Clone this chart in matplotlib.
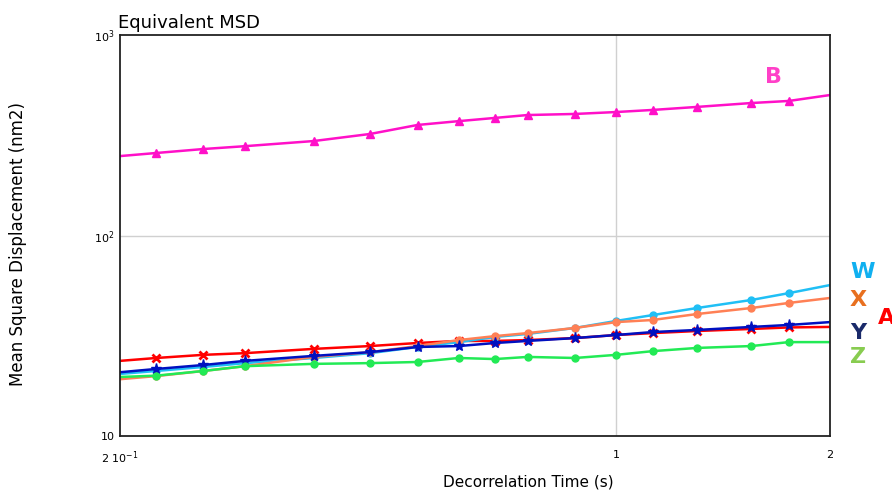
import matplotlib
matplotlib.use('Agg')
import matplotlib.pyplot as plt

# ------------ Data ---------------
t = [0.2, 0.225, 0.262, 0.3, 0.375, 0.45, 0.525, 0.6, 0.675, 0.75, 0.875,
     1.0, 1.125, 1.3, 1.55, 1.75, 2.0]

msd_A = [23.7, 24.5, 25.4, 25.9, 27.2, 28.1, 29.1, 29.8, 29.8, 30.1, 30.8,
         31.9, 32.6, 33.4, 34.2, 34.8, 35.0]
msd_W = [20.4, 21.1, 22.1, 23.1, 24.5, 25.9, 27.8, 29.4, 31.2, 32.3, 34.6,
         37.5, 40.1, 43.5, 47.7, 51.6, 56.6]
msd_X = [19.2, 19.9, 21.1, 22.3, 24.8, 26.2, 28.1, 30.1, 31.5, 32.6, 34.6,
         37.0, 37.9, 40.6, 43.5, 46.1, 48.8]
msd_Y = [20.8, 21.6, 22.6, 23.7, 25.1, 26.2, 27.8, 28.1, 29.1, 29.8, 30.8,
         31.9, 33.0, 33.8, 35.0, 35.8, 37.0]
msd_Z = [19.7, 20.0, 21.1, 22.3, 22.9, 23.1, 23.4, 24.5, 24.2, 24.8, 24.5,
         25.4, 26.5, 27.5, 28.1, 29.4, 29.4]
msd_B = [249, 258, 270, 279, 296, 321, 356, 372, 386, 399, 404,
         413, 423, 438, 458, 469, 502]

x_ticks = [0.2, 1, 2]
x_ticklabels = ['2 10$^{-1}$', '1', '2']
y_ticks = [10, 100, 1000]
y_ticklabels = ['10', '10$^2$', '10$^3$']

# ------------ Plot Setup ---------------
fig = plt.figure(figsize=(8.92, 4.92), dpi=100)
ax = fig.add_axes([0.1345, 0.1138, 0.796, 0.815])

ax.set_xscale('log')
ax.set_yscale('log')
ax.set_xlim(0.2, 2)
ax.set_ylim(10, 1000)

ev = slice(1, -1)
ax.plot(t, msd_A, color='#ff0000', lw=1.8, marker='x', ms=6, mew=2, markevery=ev)
ax.plot(t, msd_W, color='#20bff5', lw=1.8, marker='o', ms=5, markevery=ev)
ax.plot(t, msd_X, color='#ff8055', lw=1.8, marker='o', ms=5, markevery=ev)
ax.plot(t, msd_Y, color='#0010c0', lw=1.8, marker='*', ms=8, markevery=ev)
ax.plot(t, msd_Z, color='#22ea55', lw=1.8, marker='o', ms=5, markevery=ev)
ax.plot(t, msd_B, color='#ff10c8', lw=1.8, marker='^', ms=6, markevery=ev)

ax.set_xticks(x_ticks)
ax.set_xticklabels(x_ticklabels)
ax.set_yticks(y_ticks)
ax.set_yticklabels(y_ticklabels)
ax.minorticks_off()
ax.tick_params(length=0, labelsize=8, pad=10)
ax.tick_params(axis='y', pad=4)

ax.axvline(1, color='#d0d0d0', lw=1, zorder=0)
ax.axhline(100, color='#d0d0d0', lw=1, zorder=0)

for s in ax.spines.values():
    s.set_linewidth(1.3)
    s.set_color('#222222')

ax.set_xlabel('Decorrelation Time (s)', fontsize=11, labelpad=6, x=0.575)
ax.set_ylabel('Mean Square Displacement (nm2)', fontsize=12, labelpad=48, y=0.48)
fig.text(0.132, 0.935, 'Equivalent MSD', fontsize=13, ha='left', va='bottom')

# series labels
fig.text(0.867, 0.843, 'B', color='#ff40c8', fontsize=16, fontweight='bold', ha='center', va='center')
fig.text(0.967, 0.447, 'W', color='#10b0f0', fontsize=16, fontweight='bold', ha='center', va='center')
fig.text(0.962, 0.390, 'X', color='#e87020', fontsize=16, fontweight='bold', ha='center', va='center')
fig.text(0.984, 0.354, 'A', color='#ff0000', fontsize=16, fontweight='bold', ha='left', va='center')
fig.text(0.962, 0.323, 'Y', color='#1a2a6a', fontsize=16, fontweight='bold', ha='center', va='center')
fig.text(0.962, 0.274, 'Z', color='#88cc50', fontsize=16, fontweight='bold', ha='center', va='center')

fig.savefig('out.png', dpi=100)
